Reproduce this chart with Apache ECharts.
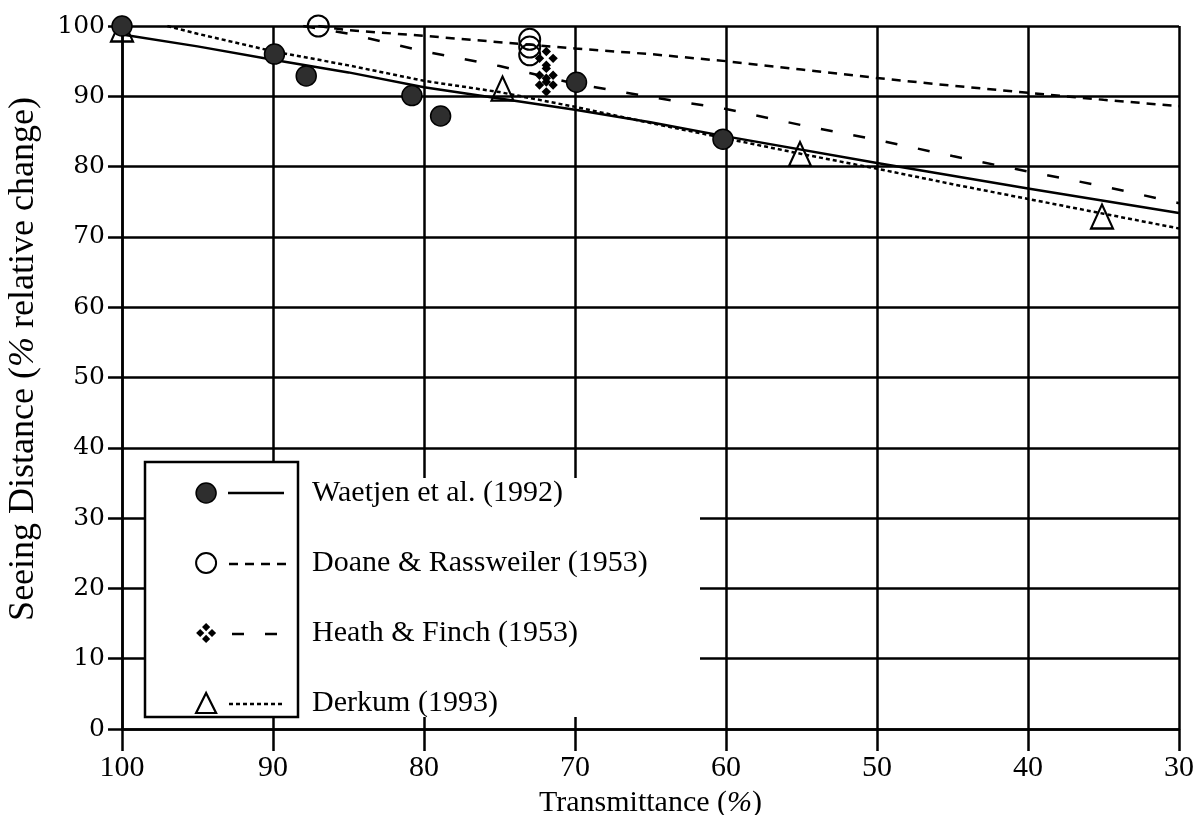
<!DOCTYPE html>
<html>
<head>
<meta charset="utf-8">
<title>Seeing distance vs transmittance</title>
<script src="https://cdn.jsdelivr.net/npm/echarts/dist/echarts.min.js"></script>
<style>
  html, body { margin: 0; padding: 0; background: #fff; }
  #main { width: 1199px; height: 815px; }
</style>
</head>
<body>
<div id="main"></div>
<script>
// tick labels
var xTicks = [100, 90, 80, 70, 60, 50, 40, 30]
var yTicks = [0, 10, 20, 30, 40, 50, 60, 70, 80, 90, 100]

// series names (legend order)
var names = ['Waetjen et al. (1992)', 'Doane & Rassweiler (1953)', 'Heath & Finch (1953)', 'Derkum (1993)']

var waetjenX = [100, 89.9, 87.8, 80.8, 78.9, 69.9, 60.2]
var waetjenY = [100, 96.0, 92.9, 90.1, 87.2, 92.0, 83.9]
var doaneX = [87, 73, 73, 73]
var doaneY = [100, 98.1, 97.0, 95.9]
var heathX = [88.4, 71.9, 71.9, 71.9]
var heathY = [100.2, 95.4, 93.0, 91.6]
var derkumX = [100, 74.8, 55.1, 35.1]
var derkumY = [99.5, 91.1, 81.8, 72.9]

// fitted curves
var waetjenFitX = [100, 95, 90, 85, 80, 75, 70, 65, 60, 50, 40, 30]
var waetjenFitY = [98.8, 97.1, 95.2, 93.4, 91.3, 89.7, 88.1, 86.3, 84.3, 80.5, 76.9, 73.4]
var doaneFitX = [87, 85, 80, 75, 70, 65, 60, 55, 50, 45, 40, 35, 30]
var doaneFitY = [100, 99.4, 98.6, 97.7, 96.8, 96.0, 95.0, 93.8, 92.6, 91.5, 90.5, 89.5, 88.6]
var heathFitX = [88, 85, 80, 75, 70, 65, 60, 55, 50, 45, 40, 35, 30]
var heathFitY = [100, 98.9, 96.4, 94.3, 91.8, 89.9, 88.2, 85.9, 83.8, 81.5, 79.3, 77.2, 74.8]
var derkumFitX = [97, 95, 90, 85, 80, 75, 70, 65, 60, 55, 50, 45, 40, 35, 30]
var derkumFitY = [100, 98.9, 96.4, 94.4, 92.2, 90.6, 88.5, 86.2, 84.0, 81.8, 79.7, 77.5, 75.4, 73.3, 71.2]

function pairs (xs, ys) {
  return xs.map(function (x, i) { return [x, ys[i]] })
}

var serif = 'Liberation Serif'
// four small diamonds, like the printed symbol
var heathSymbol = 'path://M12,1 L16.5,5.5 L12,10 L7.5,5.5 Z M12,14 L16.5,18.5 L12,23 L7.5,18.5 Z M1,12 L5.5,7.5 L10,12 L5.5,16.5 Z M14,12 L18.5,7.5 L23,12 L18.5,16.5 Z'

var styles = {
  waetjen: { color: '#2e2e2e', borderColor: '#000', borderWidth: 1.5, opacity: 1 },
  doane: { color: 'rgba(255,255,255,0)', borderColor: '#000', borderWidth: 2, opacity: 1 },
  heath: { color: '#000', opacity: 1 },
  derkum: { color: 'rgba(255,255,255,0)', borderColor: '#000', borderWidth: 2.2, opacity: 1 }
}
var dashes = {
  waetjen: 'solid',
  doane: [9, 7],
  heath: [12, 21],
  derkum: [4, 3]
}

function fitLine (name, data, dash) {
  return {
    name: name,
    type: 'line',
    data: data,
    showSymbol: false,
    smooth: false,
    silent: true,
    z: 2,
    lineStyle: { color: '#000', width: 2.5, type: dash, opacity: 1 }
  }
}

function points (name, data, symbol, size, style, z) {
  return {
    name: name,
    type: 'scatter',
    data: data,
    symbol: symbol,
    symbolSize: size,
    itemStyle: style,
    silent: true,
    z: z
  }
}

var rowY = [493, 564, 634, 704]

var chart = echarts.init(document.getElementById('main'))
var option = {
  animation: false,
  backgroundColor: '#fff',
  grid: { left: 122, right: 20, top: 26, bottom: 86, outerBoundsMode: 'none' },
  xAxis: {
    type: 'value',
    inverse: true,
    min: xTicks[xTicks.length - 1],
    max: xTicks[0],
    interval: 10,
    name: 'Transmittance ({i|%})',
    nameLocation: 'middle',
    nameGap: 50,
    nameTextStyle: {
      fontFamily: serif, fontSize: 30, color: '#000',
      rich: { i: { fontFamily: serif, fontSize: 30, fontStyle: 'italic', color: '#000' } }
    },
    axisLine: { lineStyle: { color: '#000', width: 2.5 } },
    axisTick: { length: 22, lineStyle: { color: '#000', width: 2.5 } },
    axisLabel: { margin: 24, fontFamily: serif, fontSize: 30, color: '#000' },
    splitLine: { show: true, lineStyle: { color: '#000', width: 2.5 } }
  },
  yAxis: {
    type: 'value',
    min: yTicks[0],
    max: yTicks[yTicks.length - 1],
    interval: 10,
    name: 'Seeing Distance ({i|%} relative change)',
    nameLocation: 'middle',
    nameRotate: 90,
    nameGap: 80,
    nameTextStyle: {
      fontFamily: serif, fontSize: 36, color: '#000', padding: [0, 0, 0, 37],
      rich: { i: { fontFamily: serif, fontSize: 36, fontStyle: 'italic', color: '#000' } }
    },
    axisLine: { show: true, lineStyle: { color: '#000', width: 2.5 } },
    axisTick: { show: true, length: 14, lineStyle: { color: '#000', width: 2.5 } },
    axisLabel: { margin: 17, fontFamily: 'DejaVu Serif', fontSize: 25, color: '#000' },
    splitLine: { show: true, lineStyle: { color: '#000', width: 2.5 } }
  },
  legend: {
    orient: 'vertical',
    left: 195,
    top: 478,
    padding: 0,
    itemWidth: 20,
    itemHeight: 20,
    itemGap: 40,
    selectedMode: false,
    textStyle: { fontFamily: serif, fontSize: 30, lineHeight: 30, color: '#000', padding: [0, 0, 0, 91] },
    data: [
      { name: names[0], icon: 'circle', itemStyle: styles.waetjen },
      { name: names[1], icon: 'circle', itemStyle: styles.doane },
      { name: names[2], icon: heathSymbol, itemStyle: styles.heath },
      { name: names[3], icon: 'triangle', itemStyle: styles.derkum }
    ]
  },
  graphic: [
    // white area behind the legend text, hides the grid there
    { type: 'rect', z: 3, shape: { x: 298, y: 478, width: 402, height: 239 }, style: { fill: '#fff' } },
    // legend box round the symbols
    { type: 'rect', z: 3, shape: { x: 145, y: 462, width: 153, height: 255 }, style: { fill: '#fff', stroke: '#000', lineWidth: 2.5 } },
    { type: 'line', z: 5, shape: { x1: 228, y1: rowY[0], x2: 284, y2: rowY[0] }, style: { stroke: '#000', lineWidth: 2.5 } },
    { type: 'line', z: 5, shape: { x1: 229, y1: rowY[1], x2: 286, y2: rowY[1] }, style: { stroke: '#000', lineWidth: 2.5, lineDash: dashes.doane } },
    { type: 'line', z: 5, shape: { x1: 232, y1: rowY[2], x2: 277, y2: rowY[2] }, style: { stroke: '#000', lineWidth: 2.5, lineDash: dashes.heath } },
    { type: 'line', z: 5, shape: { x1: 229, y1: rowY[3], x2: 283, y2: rowY[3] }, style: { stroke: '#000', lineWidth: 2.5, lineDash: dashes.derkum } }
  ],
  series: [
    fitLine(names[0], pairs(waetjenFitX, waetjenFitY), dashes.waetjen),
    fitLine(names[1], pairs(doaneFitX, doaneFitY), dashes.doane),
    fitLine(names[2], pairs(heathFitX, heathFitY), dashes.heath),
    fitLine(names[3], pairs(derkumFitX, derkumFitY), dashes.derkum),
    points(names[3], pairs(derkumX, derkumY), 'triangle', [22, 24], styles.derkum, 3),
    points(names[2], pairs(heathX, heathY), heathSymbol, 23, styles.heath, 4),
    points(names[1], pairs(doaneX, doaneY), 'circle', 21, styles.doane, 5),
    points(names[0], pairs(waetjenX, waetjenY), 'circle', 20, styles.waetjen, 6)
  ]
}
chart.setOption(option)
window.addEventListener('resize', function () { chart.resize() })
</script>
</body>
</html>
